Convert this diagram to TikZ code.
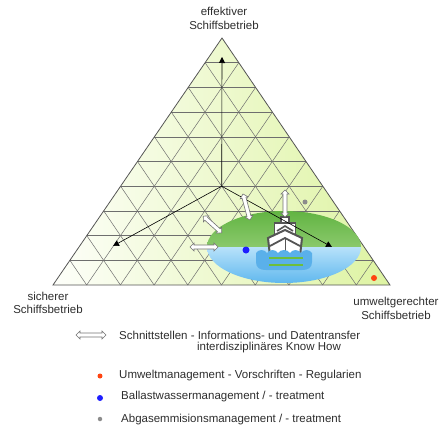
\documentclass[tikz,border=0pt]{standalone}
\usepackage{fontspec}
\setmainfont{Liberation Sans}
\usetikzlibrary{positioning,arrows.meta,calc,shapes.geometric}

\definecolor{fieldgreen}{RGB}{206,238,118}
\definecolor{gridgray}{RGB}{110,110,110}
\definecolor{shipgray}{RGB}{85,85,85}
\definecolor{islegreen}{RGB}{98,180,66}
\definecolor{islelight}{RGB}{178,222,150}
\definecolor{seatop}{RGB}{184,226,250}
\definecolor{seabottom}{RGB}{96,184,238}
\definecolor{waveblue}{RGB}{90,176,234}
\definecolor{waveline}{RGB}{110,190,60}
\definecolor{dotred}{RGB}{255,68,17}
\definecolor{dotblue}{RGB}{30,30,255}
\definecolor{dotgray}{RGB}{140,140,140}
\definecolor{textgray}{RGB}{45,45,45}

\pgfdeclarehorizontalshading{fieldshade}{100bp}{color(0bp)=(white); color(22bp)=(white); color(100bp)=(fieldgreen)}

\begin{document}
\begin{tikzpicture}[
			x=1pt, y=-1pt,
			label/.style={
					align=center,
					text=textgray,
					font=\fontsize{11.5}{13.5}\selectfont,
					inner sep=0pt
				},
			legend/.style={label, anchor=west},
			marker/.style={circle, inner sep=0pt, minimum size=#1},
			% white two-way arrow, #1 is half its length
			twoway/.pic={
					\filldraw[fill=white, draw=gray!90!black, line width=0.6pt]
					(-#1,0) -- (-#1+4,-4) -- (-#1+4,-2) -- (#1-4,-2) -- (#1-4,-4)
					-- (#1,0) -- (#1-4,4) -- (#1-4,2) -- (-#1+4,2) -- (-#1+4,4) -- cycle;
				},
			> ={Triangle[length=6pt,width=6pt]}
		]

		\useasboundingbox (0,0) rectangle (442,428);

		% corners of the triangle
		\coordinate (top) at (222,38);
		\coordinate (left) at (53,285);
		\coordinate (right) at (390,285);

		\shade[shading=fieldshade] (top) -- (left) -- (right) -- cycle;

		% grid, ten steps on each side
		\foreach \i in {1,...,9} {
				\draw[gridgray, line width=0.5pt]
				($(left)!\i/10!(top)$) -- ($(right)!\i/10!(top)$);
				\draw[gridgray, line width=0.5pt]
				($(left)!\i/10!(right)$) -- ($(top)!\i/10!(right)$);
				\draw[gridgray, line width=0.5pt]
				($(left)!\i/10!(right)$) -- ($(left)!\i/10!(top)$);
			}
		\draw[shipgray, line width=0.8pt] (top) -- (left) -- (right) -- cycle;

		% island with sea
		\node (isle) [ellipse, minimum width=154pt, minimum height=72pt,
			path picture={
					\shade[top color=islegreen, bottom color=islelight]
					(path picture bounding box.north west) rectangle (path picture bounding box.east);
					\shade[top color=seatop, bottom color=seabottom]
					(path picture bounding box.west) rectangle (path picture bounding box.south east);
				}]
		at (284,247) {};

		% ship
		\filldraw[fill=white, draw=shipgray, line width=1.6pt] (281,217) rectangle (289,223);
		\filldraw[fill=white, draw=shipgray, line width=1.8pt] (274.5,223) rectangle (295.5,236);
		\draw[shipgray, line width=1.6pt] (277,231) -- (285,226) -- (293,231);
		\filldraw[fill=white, draw=shipgray, line width=2pt]
		(268,238) -- (285,230) -- (302,238) -- (300,256) -- (270,256) -- cycle;
		\draw[shipgray, line width=1.8pt] (270,246) -- (285,238) -- (300,246);
		\draw[shipgray, line width=1pt] (285,238) -- (285,256);
		\fill[waveblue] (256,253)
		.. controls (259,249) and (264,249) .. (267,253)
		.. controls (270,249) and (275,249) .. (278,253)
		.. controls (281,249) and (287,249) .. (290,253)
		.. controls (293,249) and (298,249) .. (301,253)
		.. controls (304,249) and (309,249) .. (312,253)
		-- (312,262) .. controls (312,268) and (308,270) .. (302,270)
		-- (266,270) .. controls (260,270) and (256,268) .. (256,262) -- cycle;
		\draw[waveline, line width=1.5pt] (269,258) -- (303,258);
		\draw[waveline, line width=1.5pt] (269,265) -- (303,265);

		% axes from the middle
		\coordinate (mid) at ($($(left)!.4!(top)$)!.5!($(right)!.4!(top)$)$);
		\coordinate (toptip) at (222,57);
		\coordinate (lefttip) at (113,246);
		\coordinate (righttip) at (332,247);
		\draw[->, line width=0.6pt] (mid) -- (toptip);
		\draw[->, line width=0.6pt] (mid) -- (lefttip);
		\draw[->, line width=0.6pt] (mid) -- (righttip);

		% interfaces
		\pic (link1) [rotate=90] at (285,203.5) {twoway=13.5};
		\pic (link2) [rotate=-75] at (246.5,207) {twoway=13.5};
		\pic (link3) [rotate=-42] at (212.5,224.5) {twoway=12.5};
		\pic (link4) at (204,247) {twoway=14};

		% measures
		\node (exhaust) [marker=5pt, fill=dotgray] at (305,202) {};
		\node (ballast) [marker=7pt, fill=dotblue] at (246,250) {};
		\node (rules) [marker=6pt, fill=dotred] at (374,278) {};

		% corner labels
		\node (effective) [label] at (224,18.5) {effektiver\\Schiffsbetrieb};
		\node (safe) [label] at (48,303) {sicherer\\Schiffsbetrieb};
		\node (green) [label] at (396,308.5) {umweltgerechter\\Schiffsbetrieb};

		% legend
		\pic (keylink) at (91,335) {twoway=15};
		\node (keylinktext) [legend] at (119,335)
		{Schnittstellen - Informations- und Datentransfer};
		\node (keylinktext2) [label] at (269,348) {interdisziplinäres Know How};

		\node (keyred) [marker=5pt, fill=dotred] at (100,376) {};
		\node (keyredtext) [legend] at (119,376)
		{Umweltmanagement - Vorschriften - Regularien};
		\node (keyblue) [marker=6pt, fill=dotblue] at (100,398) {};
		\node (keybluetext) [legend] at (121,397)
		{Ballastwassermanagement / - treatment};
		\node (keygray) [marker=4.5pt, fill=dotgray] at (100,419) {};
		\node (keygraytext) [legend] at (121,420)
		{Abgasemmisionsmanagement / - treatment};

	\end{tikzpicture}
\end{document}
